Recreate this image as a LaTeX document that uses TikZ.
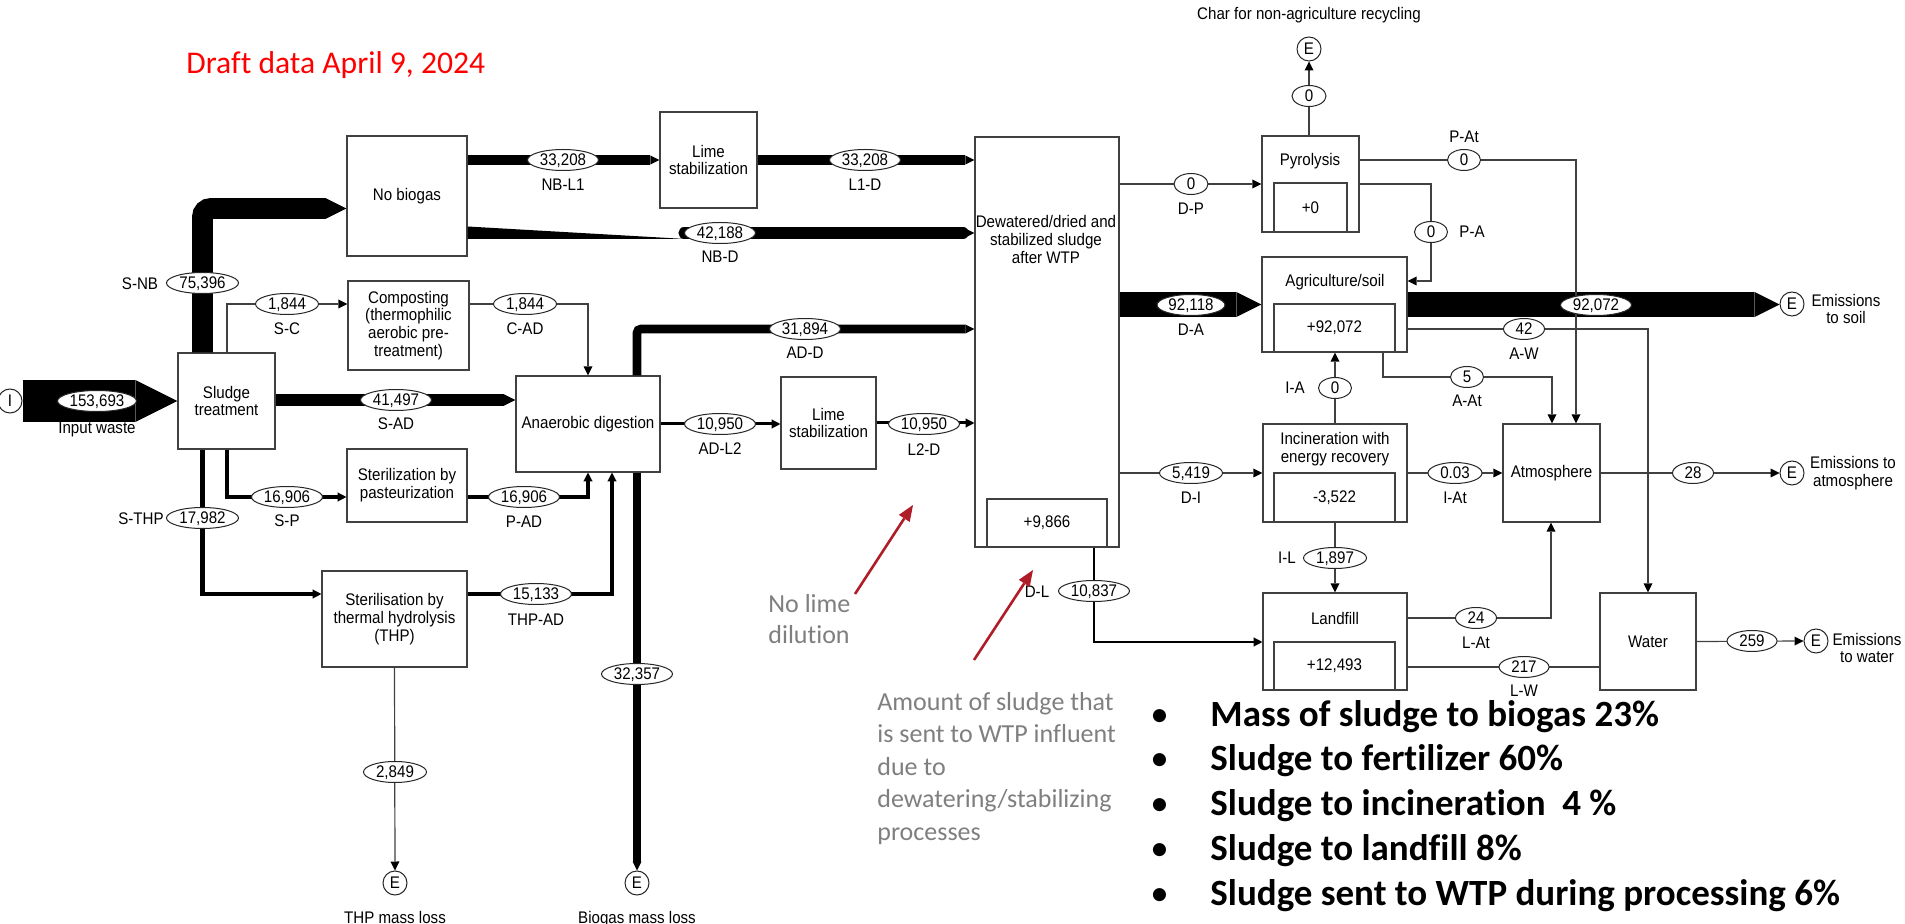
\documentclass[tikz,border=0pt]{standalone}
\usepackage{fontspec}
\newfontfamily\dfont{Liberation Sans}[FakeStretch=0.9]
\newfontfamily\calfont{Carlito}[Ligatures=NoCommon]
\usetikzlibrary{arrows.meta,shapes.geometric}
\definecolor{ln}{gray}{0.25}
\definecolor{redarrow}{RGB}{175,30,40}
\definecolor{note}{RGB}{127,127,127}
\tikzset{
 dtext/.style={font=\dfont\fontsize{8.4}{8.9}\selectfont},
 pbx/.style={draw=ln, line width=0.6pt, fill=white, inner sep=0pt, align=center, dtext},
 ov/.style={ellipse, draw=black!85, line width=0.5pt, fill=white, inner sep=0pt, minimum height=10.5pt, minimum width=#1*0.5pt, text height=6pt, text depth=0.3pt, dtext},
 lbl/.style={inner sep=0pt, dtext, text height=6pt, text depth=0pt},
 lblm/.style={inner sep=0pt, dtext, align=center},
 ecirc/.style={circle, draw=black!85, line width=0.5pt, fill=white, minimum size=12pt, inner sep=0pt, dtext},
 thinf/.style={draw=ln, line width=0.6pt},
 tarr/.style={thinf, -{Triangle[width=4.5pt,length=4.5pt,line width=0pt,color=black]}},
 bigf/.style={draw=black, line width=#1, -{Triangle[width=0pt 1,length=0pt 1,line width=0pt]}},
 medf/.style={draw=black, line width=#1, -{Triangle[width=4.6pt,length=4.4pt,line width=0pt]}},
 redarr/.style={draw=redarrow, line width=1.3pt, -{Triangle[width=6.5pt,length=8pt,line width=0pt]}},
 notetxt/.style={anchor=base west, inner sep=0pt, text=note, font=\calfont\fontsize{13}{16}\selectfont},
 bultxt/.style={anchor=base west, inner sep=0pt, font=\calfont\bfseries\fontsize{18.5}{22}\selectfont},
 buldot/.style={anchor=base west, inner sep=0pt, font=\calfont\fontsize{18.5}{22}\selectfont},
}
\newcommand\procbox[6]{\node[pbx, minimum width={(#4-#2)*0.5pt}, minimum height={(#5-#3)*0.5pt}] (#1) at ({(#2+#4)/2},{(#3+#5)/2}) {#6};}
\begin{document}
\begin{tikzpicture}[x=0.5pt,y=-0.5pt]
\fill[white] (0,0) rectangle (1905,924);
\useasboundingbox (0,0) rectangle (1905,924);

% ---------- process boxes ----------
\procbox{sludge}{178}{353}{275}{449}{Sludge\\treatment}
\procbox{nob}{347}{136}{467}{256}{No biogas}
\procbox{comp}{348}{281}{469}{370}{Composting\\(thermophilic\\aerobic pre-\\treatment)}
\procbox{past}{347}{449}{467}{522}{Sterilization by\\pasteurization}
\procbox{thp}{322}{571}{467}{667}{Sterilisation by\\thermal hydrolysis\\(THP)}
\procbox{ad}{516}{376}{660}{472}{Anaerobic digestion}
\procbox{limeA}{660}{112}{757}{208}{Lime\\stabilization}
\procbox{limeB}{781}{377}{876}{469}{Lime\\stabilization}
\procbox{dew}{975}{137}{1119}{547}{}
\procbox{pyr}{1262}{136}{1359}{232}{}
\procbox{agri}{1262}{257}{1407}{352}{}
\procbox{inc}{1263}{424}{1407}{522}{}
\procbox{land}{1263}{593}{1407}{690}{}
\procbox{atm}{1503}{424}{1600}{522}{Atmosphere}
\procbox{water}{1600}{593}{1696}{690}{Water}
% stock boxes
\procbox{dewS}{987}{499}{1107}{547}{+9,866}
\procbox{pyrS}{1274}{183}{1347}{232}{+0}
\procbox{agriS}{1274}{304}{1395}{352}{+92,072}
\procbox{incS}{1274}{473}{1395}{522}{-3,522}
\procbox{landS}{1274}{642}{1395}{690}{+12,493}
\node[lblm] (dewT) at (1046,239.5) {Dewatered/dried and\\stabilized sludge\\after WTP};
\node[lbl] (pyrT) at (1310,160) {Pyrolysis};
\node[lbl] (agriT) at (1335,281) {Agriculture/soil};
\node[lblm] (incT) at (1335,449) {Incineration with\\energy recovery};
\node[lbl] (landT) at (1335,618) {Landfill};

% ---------- import / export circles ----------
\node[ecirc] (Iin) at (10,401) {I};
\node[ecirc] (Echar) at (1309,49) {E};
\node[ecirc] (Ethp) at (395,883) {E};
\node[ecirc] (Ebio) at (637,883) {E};
\node[ecirc] (Esoil) at (1792,304) {E};
\node[ecirc] (Eatm) at (1792,473) {E};
\node[ecirc] (Ewat) at (1816,641) {E};

% ---------- bend coordinates ----------
\coordinate (snb) at (202.5,208.5);
\coordinate (sc) at (227,304);
\coordinate (cad) at (588,304);
\coordinate (sad) at (0,400);
\coordinate (sp) at (227,497);
\coordinate (pad) at (588,497);
\coordinate (sthp) at (202.5,594);
\coordinate (thpad) at (612,594);
\coordinate (add) at (637,329);
\coordinate (nbl) at (0,160);
\coordinate (nbw1) at (0,226.5);
\coordinate (nbw2) at (0,239);
\coordinate (nbdT) at (686,239);
\coordinate (nbd) at (684,233);
\coordinate (pat) at (1576,160);
\coordinate (pa1) at (1431,184);
\coordinate (pa2) at (1431,281);
\coordinate (aw) at (1648,329);
\coordinate (aat1) at (1383,377);
\coordinate (aat2) at (1552,377);
\coordinate (dl) at (1094,642);
\coordinate (lat) at (1551,618);
\coordinate (lw) at (0,667);

% ---------- thick flows ----------
\draw[bigf=21pt] (Iin.east) -- (sludge.west);
\draw[bigf=10.3pt, rounded corners=4pt] (sludge.north -| snb) -- (snb) -- (nob.west |- snb);
\draw[bigf=5.67pt] (sludge.east |- sad) -- (ad.west |- sad);
\draw[medf=2.31pt] (sludge.south -| sp) |- (past.west |- sp);
\draw[medf=2.31pt] (past.east |- pad) -| (ad.south -| pad);
\draw[medf=2.46pt] (sludge.south -| sthp) |- (thp.west |- sthp);
\draw[medf=2.07pt] (thp.east |- thpad) -| (ad.south -| thpad);
\draw[bigf=4.42pt] (ad.south -| Ebio) -- (Ebio.north);
\draw[bigf=4.36pt, rounded corners=2pt] (ad.north -| add) |- (dew.west |- add);
\draw[medf=1.5pt] (ad.east) -- (limeB.west |- ad.east);
\draw[medf=1.5pt] (limeB.east) -- (dew.west |- limeB.east);
\draw[bigf=4.54pt] (nob.east |- nbl) -- (limeA.west |- nbl);
\draw[bigf=4.54pt] (limeA.east |- nbl) -- (dew.west |- nbl);
\fill[black] (nob.east |- nbw1) -- (nob.east |- nbw2) -- (nbdT) -- cycle;
\draw[bigf=5.6pt, line cap=round] (nbd) -- (dew.west |- nbd);
\draw[bigf=12.58pt] (dew.east |- agri.west) -- (agri.west);
\draw[bigf=12.58pt] (agri.east) -- (Esoil.west |- agri.east);
\draw[medf=1.48pt] (dew.south -| dl) |- (land.west |- dl);

% ---------- thin flows ----------
\draw[tarr] (sludge.north -| sc) |- (comp.west |- sc);
\draw[tarr] (comp.east |- cad) -| (ad.north -| cad);
\draw[tarr] (thp.south) -- (Ethp.north);
\draw[tarr] (dew.east |- pyr.west) -- (pyr.west);
\draw[tarr] (pyr.north -| Echar) -- (Echar.south);
\draw[tarr] (pyr.east |- pat) -| (atm.north -| pat);
\draw[tarr] (pyr.east |- pa1) -- (pa1) -- (pa2) -- (agri.east |- pa2);
\draw[tarr] (agri.east |- aw) -| (water.north -| aw);
\draw[tarr] (agri.south -| aat1) -- (aat1) -- (aat2) -- (atm.north -| aat2);
\draw[tarr] (inc.north) -- (agri.south -| inc.north);
\draw[tarr, line width=0.74pt] (dew.east |- inc.west) -- (inc.west);
\draw[tarr] (inc.east) -- (atm.west |- inc.east);
\draw[tarr] (atm.east) -- (Eatm.west);
\draw[tarr] (inc.south) -- (land.north -| inc.south);
\draw[tarr] (land.east |- lat) -| (atm.south -| lat);
\draw[thinf] (land.east |- lw) -- (water.west |- lw);
\draw[tarr] (water.east) -- (Ewat.west);

% ---------- values and flow names ----------
\node[ov=79] (v1) at (97,401) {153,693};   \node[lbl] (n1) at (97,428) {Input waste};
\node[ov=72] (v2) at (202.5,283) {75,396}; \node[lbl] (n2) at (140,284) {S-NB};
\node[ov=63] (v3) at (287,304) {1,844};    \node[lbl] (n3) at (287,329) {S-C};
\node[ov=63] (v4) at (525,304) {1,844};    \node[lbl] (n4) at (525,329) {C-AD};
\node[ov=71] (v5) at (396,400) {41,497};   \node[lbl] (n5) at (396,424) {S-AD};
\node[ov=71] (v6) at (287,497) {16,906};   \node[lbl] (n6) at (287,521) {S-P};
\node[ov=71] (v7) at (524,497) {16,906};   \node[lbl] (n7) at (524,522) {P-AD};
\node[ov=72] (v8) at (202.5,518) {17,982}; \node[lbl] (n8) at (141,518) {S-THP};
\node[ov=71] (v9) at (536,594) {15,133};   \node[lbl] (n9) at (536,619) {THP-AD};
\node[ov=63] (v10) at (395,772) {2,849};   \node[lbl] (n10) at (395,917) {THP mass loss};
\node[ov=71] (v11) at (637,674) {32,357};  \node[lbl] (n11) at (637,917) {Biogas mass loss};
\node[ov=71] (v12) at (805,329) {31,894};  \node[lbl] (n12) at (805,353) {AD-D};
\node[ov=71] (v13) at (720,424) {10,950};  \node[lbl] (n13) at (720,449) {AD-L2};
\node[ov=71] (v14) at (924,424) {10,950};  \node[lbl] (n14) at (924,450) {L2-D};
\node[ov=71] (v15) at (563,160) {33,208};  \node[lbl] (n15) at (563,185) {NB-L1};
\node[ov=71] (v16) at (865,160) {33,208};  \node[lbl] (n16) at (865,185) {L1-D};
\node[ov=71] (v17) at (720,233) {42,188};  \node[lbl] (n17) at (720,257) {NB-D};
\node[ov=34] (v18) at (1191,184) {0};      \node[lbl] (n18) at (1191,209) {D-P};
\node[ov=34] (v19) at (1309,96) {0};       \node[lbl] (n19) at (1309,14) {Char for non-agriculture recycling};
\node[ov=33] (v20) at (1464,160) {0};      \node[lbl] (n20) at (1464,137) {P-At};
\node[ov=33] (v21) at (1431,232) {0};      \node[lbl] (n21) at (1472,232) {P-A};
\node[ov=68] (v22) at (1191,305) {92,118}; \node[lbl] (n22) at (1191,330) {D-A};
\node[ov=71] (v23) at (1596,305) {92,072}; \node[lblm] (n23) at (1846,309) {Emissions\\to soil};
\node[ov=41] (v24) at (1524,329) {42};     \node[lbl] (n24) at (1524,354) {A-W};
\node[ov=33] (v25) at (1467,377) {5};      \node[lbl] (n25) at (1467,401) {A-At};
\node[ov=33] (v26) at (1335,388) {0};      \node[lbl] (n26) at (1295,388) {I-A};
\node[ov=63] (v27) at (1191,473) {5,419};  \node[lbl] (n27) at (1191,498) {D-I};
\node[ov=54] (v28) at (1455,473) {0.03};   \node[lbl] (n28) at (1455,498) {I-At};
\node[ov=41] (v29) at (1693,473) {28};     \node[lblm] (n29) at (1853,473) {Emissions to\\atmosphere};
\node[ov=63] (v30) at (1335,558) {1,897};  \node[lbl] (n30) at (1287,558) {I-L};
\node[ov=71] (v31) at (1094,591) {10,837}; \node[lbl] (n31) at (1037,591) {D-L};
\node[ov=41] (v32) at (1476,618) {24};     \node[lbl] (n32) at (1476,642) {L-At};
\node[ov=50] (v33) at (1524,667) {217};    \node[lbl] (n33) at (1524,690) {L-W};
\node[ov=50] (v34) at (1752,641) {259};    \node[lblm] (n34) at (1867,648) {Emissions\\to water};

% ---------- annotations ----------
\node[anchor=base west, inner sep=0pt, text=red, font=\calfont\fontsize{15.8}{19}\selectfont] (title) at (186,74) {Draft data April 9, 2024};
\node[notetxt] (nl1) at (768,612) {No lime};
\node[notetxt] (nl2) at (768,643) {dilution};
\node[notetxt] (am1) at (877,710) {Amount of sludge that};
\node[notetxt] (am2) at (877,742) {is sent to WTP influent};
\node[notetxt] (am3) at (877,775) {due to};
\node[notetxt] (am4) at (877,807) {dewatering/stabilizing};
\node[notetxt] (am5) at (877,840) {processes};
\coordinate (ra1s) at (855,594); \coordinate (ra1e) at (913,505);
\coordinate (ra2s) at (974,660); \coordinate (ra2e) at (1033,570);
\draw[redarr] (ra1s) -- (ra1e);
\draw[redarr] (ra2s) -- (ra2e);

\foreach \i/\y/\t in {1/726/{Mass of sludge to biogas 23\%},
                      2/770/{Sludge to fertilizer 60\%},
                      3/815/{Sludge to incineration\ \ 4 \%},
                      4/860/{Sludge to landfill 8\%},
                      5/905/{Sludge sent to WTP during processing 6\%}}{
  \node[buldot] (dot\i) at (1150,\y) {•};
  \node[bultxt] (bul\i) at (1210,\y) {\t};
}
\end{tikzpicture}
\end{document}
